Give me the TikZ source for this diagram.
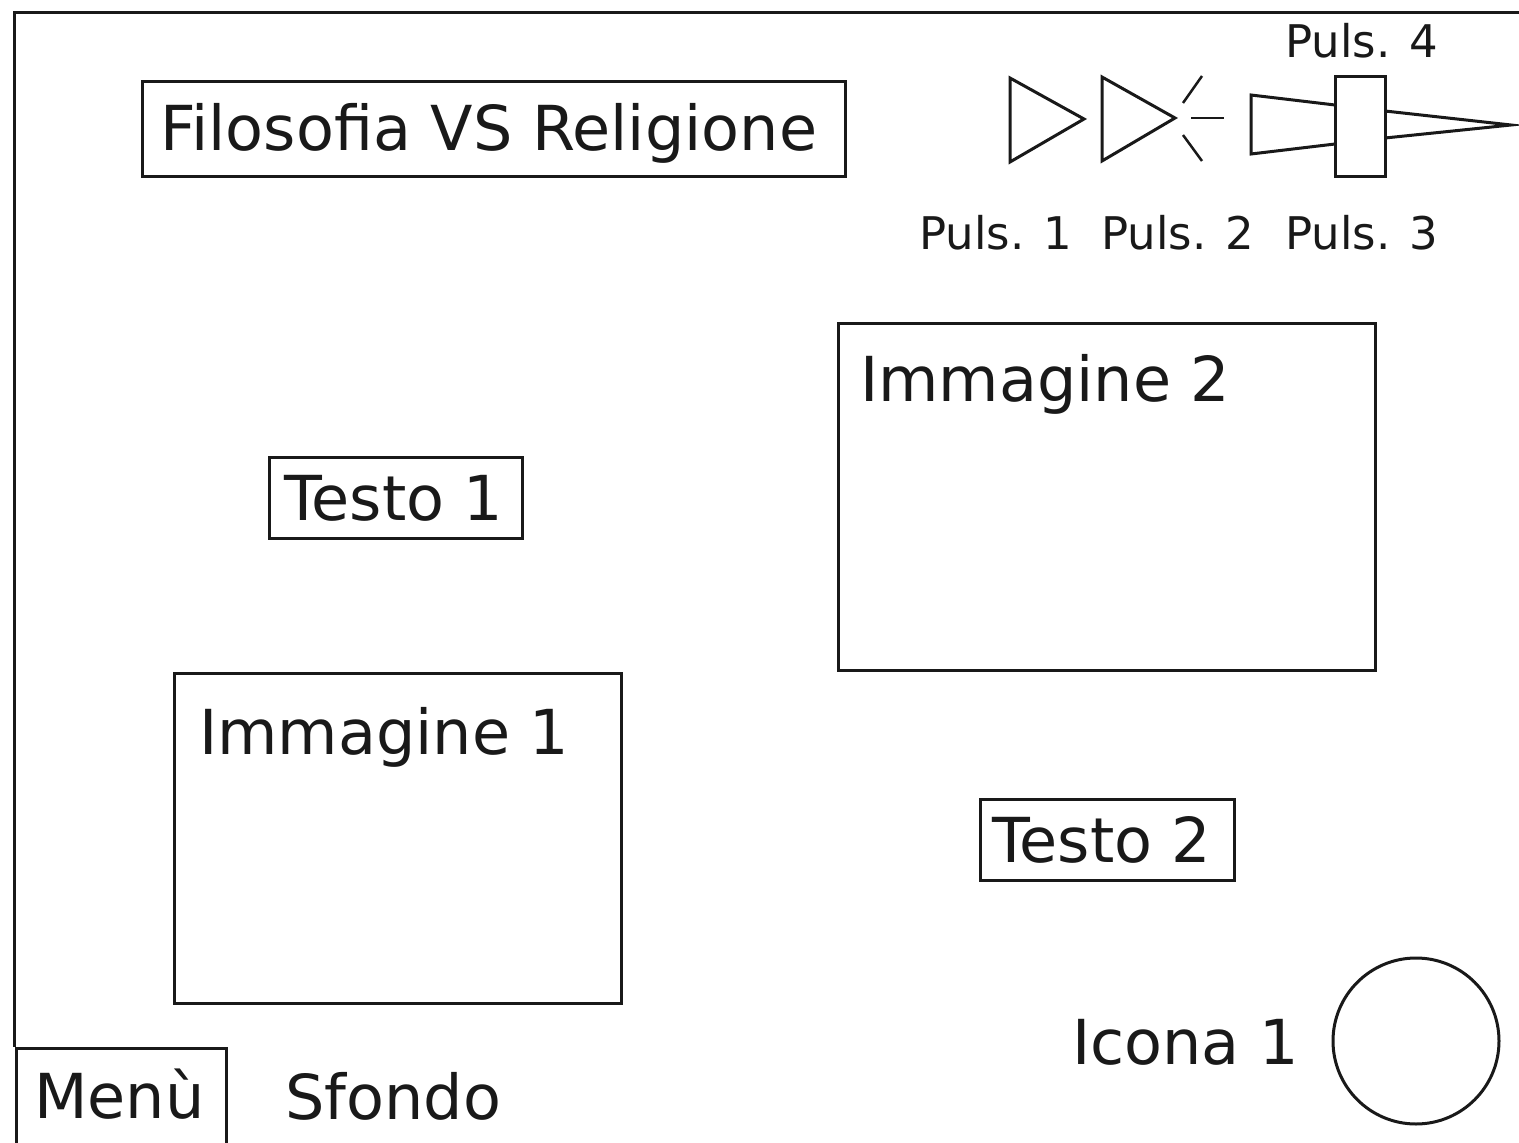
\documentclass[tikz,border=0pt]{standalone}
\usepackage{fontspec}
\setmainfont{DejaVu Sans}
\tikzset{
  ln/.style={draw=black!90,line width=3pt,line join=miter},
  boxn/.style={ln,rectangle,inner sep=0pt,anchor=north west},
  big/.style={font=\fontsize{62}{62}\selectfont,text=black!90,inner sep=0pt,anchor=base west},
  small/.style={font=\fontsize{45}{45}\selectfont,text=black!90,inner sep=0pt,anchor=base west}
}
\begin{document}
\begin{tikzpicture}[x=1pt,y=-1pt]
\useasboundingbox (0,0) rectangle (1519,1143);
\fill[white] (0,0) rectangle (1519,1143);
% frame
\coordinate (fa) at (1519,12); \coordinate (fb) at (14,12); \coordinate (fc) at (14,1047);
\draw[ln] (fa) -- (fb) -- (fc);
% boxes
\node[boxn,minimum width=703pt,minimum height=95pt] (title) at (141,80) {};
\node[big] (titlet) at (160,150) {Filosofia VS Religione};
\node[boxn,minimum width=253pt,minimum height=81pt] (t1) at (268,456) {};
\node[big] (t1t) at (284,520) {Testo 1};
\node[boxn,minimum width=254pt,minimum height=81pt] (t2) at (979,798) {};
\node[big] (t2t) at (992,862) {Testo 2};
\node[boxn,minimum width=537pt,minimum height=347pt] (i2) at (837,322) {};
\node[big] (i2t) at (860,401) {Immagine 2};
\node[boxn,minimum width=447pt,minimum height=330pt] (i1) at (173,672) {};
\node[big] (i1t) at (199,754) {Immagine 1};
\node[boxn,minimum width=210pt,minimum height=110pt] (menu) at (15,1047) {};
\node[big] (menut) at (34,1118) {Menù};
\node[big] (sf) at (285,1119) {Sfondo};
\node[big] (ic) at (1072,1064) {Icona 1};
\node[ln,circle,inner sep=0pt,minimum size=166pt] (circ) at (1416,1041) {};
% labels
\node[small] (p1) at (919,249) {Puls. 1};
\node[small] (p2) at (1101,249) {Puls. 2};
\node[small] (p3) at (1285,249) {Puls. 3};
\node[small] (p4) at (1285,57) {Puls. 4};
% button 1
\draw[ln] (1010,78) -- (1084,119) -- (1010,162) -- cycle;
% button 2
\draw[ln] (1102,77) -- (1175,118) -- (1102,161) -- cycle;
\draw[ln] (1140,0) ++(0,0);
\draw[ln,line width=2.5pt] (1183,103) -- (1202,76);
\draw[ln,line width=2.5pt] (1191,118) -- (1224,118);
\draw[ln,line width=2.5pt] (1183,135) -- (1202,161);
% button 3/4
\draw[ln] (1335,105) -- (1251,95) -- (1251,154) -- (1335,144);
\node[boxn,minimum width=50pt,minimum height=100pt] (bar) at (1334,75) {};
\draw[ln] (1385,111) -- (1511,125) -- (1385,138);
\end{tikzpicture}
\end{document}
